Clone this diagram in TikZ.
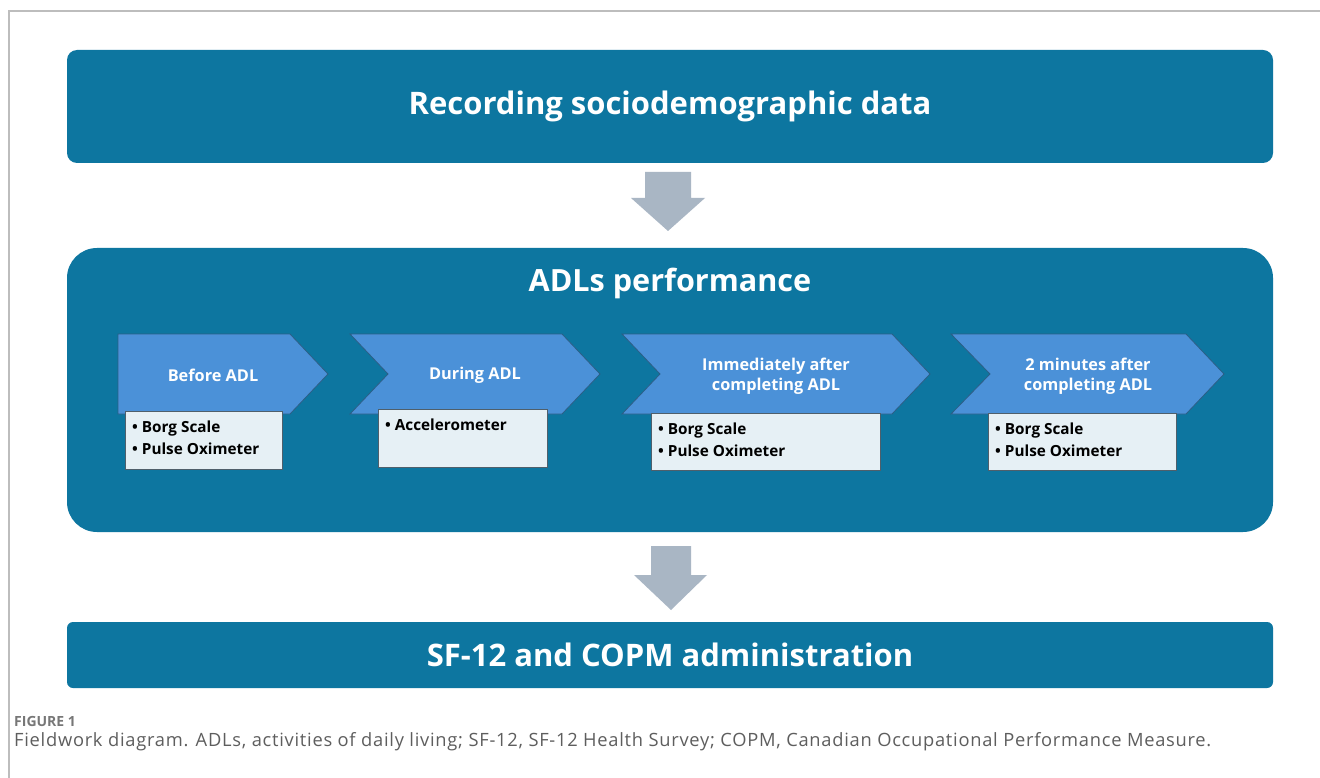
\documentclass[tikz,border=0pt]{standalone}
\usepackage{fontspec}
\usetikzlibrary{calc}
\setmainfont{Open Sans}
\newfontfamily\capfont[LetterSpace=4]{Open Sans}
\newfontfamily\figfont{Open Sans}
\definecolor{mainblue}{HTML}{0D76A0}
\definecolor{chevblue}{HTML}{4B91D8}
\definecolor{chevline}{HTML}{2C5E86}
\definecolor{boxfill}{HTML}{E6F0F5}
\definecolor{boxline}{HTML}{4F5F6B}
\definecolor{arrowgray}{HTML}{A9B6C4}
\definecolor{framegray}{HTML}{BDBDBD}
\definecolor{capgray}{HTML}{5E5E5E}
\definecolor{figgray}{HTML}{777777}
\tikzset{
  bigbox/.style={fill=mainblue, draw=none, inner sep=0pt, outer sep=0pt, minimum width=1206pt, text=white, font=\bfseries\fontsize{31}{34}\selectfont},
  chev/.style={fill=chevblue, draw=chevline, line width=0.8pt},
  chevtext/.style={text=white, font=\bfseries\fontsize{16.3}{20}\selectfont, align=center},
  listbox/.style={fill=boxfill, draw=boxline, line width=0.8pt},
  listtext/.style={anchor=north west, inner sep=0pt, font=\bfseries\fontsize{15.3}{22}\selectfont, align=left, text=black},
  downarrow/.style={fill=arrowgray, draw=none}
}
\begin{document}
\begin{tikzpicture}[x=1pt,y=-1pt]
\useasboundingbox (0,0) rectangle (1320,778);
\fill[white] (0,0) rectangle (1320,778);
\draw[framegray, line width=1.2pt] (9,778) -- (9,11) -- (1320,11);

% boxes
\node[bigbox, minimum height=113pt, rounded corners=10pt] (rec) at (670,106.5) {Recording sociodemographic data};
\node[bigbox, minimum height=284pt, rounded corners=30pt] (adl) at (670,390) {};
\node[text=white, font=\bfseries\fontsize{30.6}{34}\selectfont, inner sep=0pt] (adltitle) at (670,283) {ADLs performance};
\node[bigbox, minimum height=66pt, rounded corners=6pt] (sf) at (670,655) {SF-12 and COPM administration};

% down arrows
\coordinate (a1) at (668,172);
\coordinate (a2) at (671,546);
\fill[downarrow] ($(a1)+(-23,0)$) -- ($(a1)+(23,0)$) -- ($(a1)+(23,26)$) -- ($(a1)+(37,26)$) -- ($(a1)+(0,59)$) -- ($(a1)+(-37,26)$) -- ($(a1)+(-23,26)$) -- cycle;
\fill[downarrow] ($(a2)+(-20,0)$) -- ($(a2)+(20,0)$) -- ($(a2)+(20,29)$) -- ($(a2)+(36,29)$) -- ($(a2)+(0,64)$) -- ($(a2)+(-37,29)$) -- ($(a2)+(-20,29)$) -- cycle;

% chevrons
\draw[chev] (118,334) -- (290,334) -- (328,374) -- (290,414) -- (118,414) -- cycle;
\draw[chev] (350,334) -- (562,334) -- (600,374) -- (562,414) -- (350,414) -- (388,374) -- cycle;
\draw[chev] (622,334) -- (892,334) -- (930,374) -- (892,414) -- (622,414) -- (660,374) -- cycle;
\draw[chev] (951,334) -- (1186,334) -- (1224,374) -- (1186,414) -- (951,414) -- (990,374) -- cycle;
\node[chevtext] (c1) at (213,375) {Before ADL};
\node[chevtext] (c2) at (475,375) {During ADL};
\node[chevtext] (c3) at (776,376) {Immediately after\\completing ADL};
\node[chevtext] (c4) at (1088,376) {2 minutes after\\completing ADL};

% list boxes
\draw[listbox] (125,411) rectangle (282,469);
\draw[listbox] (378,409) rectangle (547,467);
\draw[listbox] (651,413) rectangle (880,470);
\draw[listbox] (988,413) rectangle (1176,470);
\node[listtext] (l1) at (132,421) {• Borg Scale\\• Pulse Oximeter};
\node[listtext] (l2) at (385,419) {• Accelerometer};
\node[listtext] (l3) at (658,423) {• Borg Scale\\• Pulse Oximeter};
\node[listtext] (l4) at (995,423) {• Borg Scale\\• Pulse Oximeter};

% caption
\node[anchor=west, inner sep=0pt, text=figgray, font=\figfont\bfseries\fontsize{14}{16}\selectfont] (fig) at (14,721) {FIGURE 1};
\node[anchor=west, inner sep=0pt, text=capgray, font=\capfont\fontsize{18.3}{20}\selectfont] (cap) at (14,742) {Fieldwork diagram. ADLs, activities of daily living; SF-12, SF-12 Health Survey; COPM, Canadian Occupational Performance Measure.};
\end{tikzpicture}
\end{document}
